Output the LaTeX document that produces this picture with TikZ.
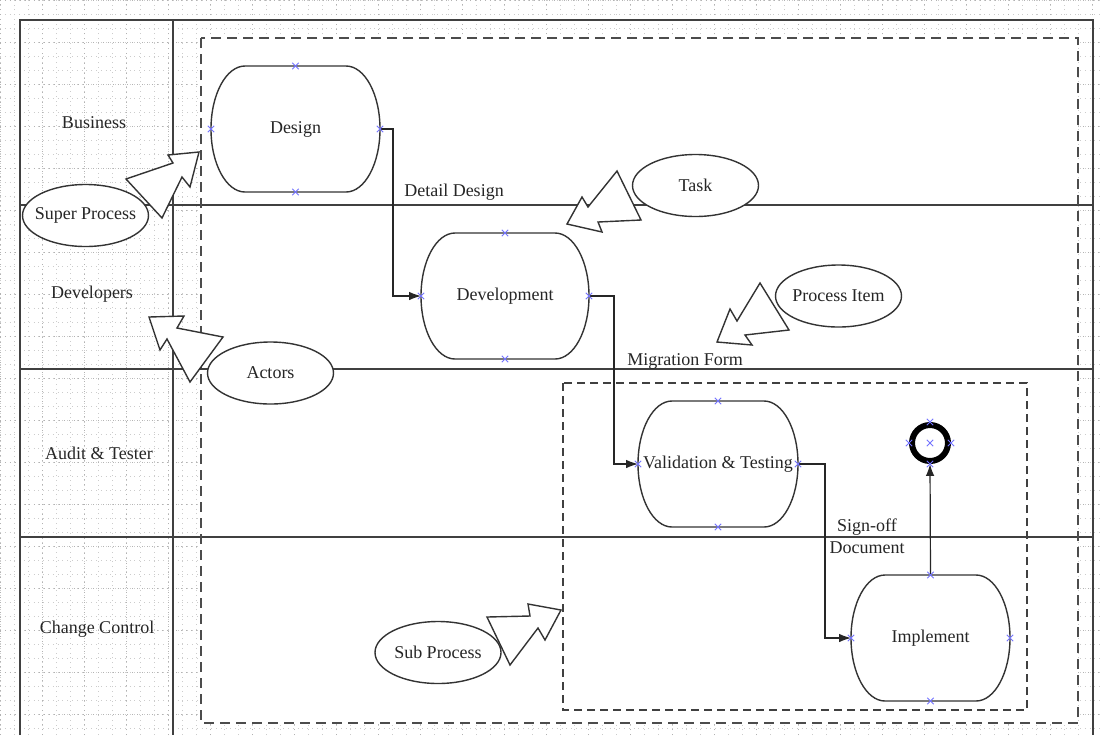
\documentclass[tikz,border=0pt]{standalone}
\usepackage{fontspec}
\setmainfont{Liberation Serif}
\usetikzlibrary{arrows.meta}
\usetikzlibrary{shapes.geometric}
\tikzset{>={Latex[width=1.5mm,length=2.1mm]}}

\tikzset{
  gridminor/.style={gray!40, line width=0.4pt, dotted},
  gridmajor/.style={gray!60, line width=0.45pt, dotted},
  lane/.style={black!75, line width=0.7pt},
  superbox/.style={black!70, line width=1pt, dash pattern=on 5pt off 3pt},
  subbox/.style={black!75, line width=0.7pt, dash pattern=on 4pt off 2.5pt},
  act/.style={minimum height=63pt, inner sep=0pt, outer sep=0pt},
  actline/.style={black!80, line width=0.7pt},
  flow/.style={->, black!85, line width=0.6pt},
  cpmark/.style={blue!55, line width=0.5pt},
  endev/.style={circle, draw=black, line width=3pt, minimum size=18pt, inner sep=0pt},
  note/.style={ellipse, draw=black!80, fill=white, line width=0.7pt,
    minimum width=63pt, minimum height=31pt, inner sep=0pt},
  jag/.style={draw=black!80, fill=white, line width=0.7pt, line join=miter}
}

% text that does not widen its node
\newcommand{\ctext}[1]{\makebox[0pt]{#1}}

% activity outline: flat top and bottom, elliptic sides
\newcommand{\actshape}[1]{%
  \draw[actline] ([xshift=17pt]#1.north west) -- ([xshift=-17pt]#1.north east)
    arc[start angle=90, end angle=-90, x radius=17pt, y radius=31.5pt]
    -- ([xshift=17pt]#1.south west)
    arc[start angle=270, end angle=90, x radius=17pt, y radius=31.5pt] -- cycle;}

\begin{document}
\begin{tikzpicture}[x=0.5pt, y=0.5pt, font=\fontsize{9}{11}\selectfont, text=black!85]

  \useasboundingbox (0,0) rectangle (1102,-735);

  % sheet grid
  \draw[gridminor, step=7pt] (0,-735) grid (1102,0);
  \draw[gridmajor, step=21pt] (0,-735) grid (1102,0);
  \fill[white] (201,-38) rectangle (1078,-723);

  % pool and lanes
  \draw[lane] (20,-735) -- (20,-20) -- (1093,-20) -- (1093,-735);
  \draw[lane] (173,-20) -- (173,-735);
  \foreach \y in {205,369,537}
    \draw[lane] (20,-\y) -- (1093,-\y);

  \draw[superbox] (201,-38) rectangle (1078,-723);
  \draw[subbox] (563,-383) rectangle (1027,-710);

  \node (business) at (94,-123) {Business};
  \node (developers) at (92,-294) {Developers};
  \node (audit) at (99,-453) {Audit \& Tester};
  \node (change) at (97,-629) {Change Control};

  % activities
  \node[act, minimum width=84.5pt] (design) at (295.5,-129) {Design};
  \node[act, minimum width=84pt] (devel) at (505,-296) {Development};
  \node[act, minimum width=80pt] (valid) at (718,-464) {Validation \& Testing};
  \node[act, minimum width=79.5pt] (impl) at (930.5,-638) {Implement};
  \foreach \n in {design,devel,valid,impl}
    \actshape{\n};

  \node[endev] (stop) at (930,-443) {};

  % sequence flows
  \draw[flow] (design.east) -- ++(13,0) |- (devel.west);
  \draw[flow] (devel.east) -- ++(25,0) |- (valid.west);
  \draw[flow] (valid.east) -- ++(27,0) |- (impl.west);
  \draw[flow] (impl.north) -- (stop.south);

  \node (detail) at (454,-192) {Detail Design};
  \node (migration) at (685,-361) {Migration Form};
  \node[align=center] (signoff) at (867,-536) {Sign-off\\Document};

  % connection points
  \foreach \n in {design,devel,valid,impl,stop}
    \foreach \a in {north,south,east,west}
      \draw[cpmark] (\n.\a) +(-1.6pt,-1.6pt) -- +(1.6pt,1.6pt) +(-1.6pt,1.6pt) -- +(1.6pt,-1.6pt);
  \draw[cpmark] (stop.center) +(-1.6pt,-1.6pt) -- +(1.6pt,1.6pt) +(-1.6pt,1.6pt) -- +(1.6pt,-1.6pt);

  % legend notes
  \node[note] (superp) at (85.5,-215.5) {\ctext{Super Process}};
  \node[note] (task) at (695.5,-185.5) {\ctext{Task}};
  \node[note] (pitem) at (838.5,-296) {\ctext{Process Item}};
  \node[note] (actors) at (270.5,-373) {\ctext{Actors}};
  \node[note] (subp) at (438,-652.5) {\ctext{Sub Process}};

  % jagged pointers
  \draw[jag] (199,-152) -- (168,-155) -- (173,-163) -- (126,-179) -- (162,-218) -- (182,-177) -- (190,-187) -- cycle;
  \draw[jag] (567,-224) -- (582,-197) -- (588,-207) -- (617,-171) -- (641,-220) -- (598,-222) -- (602,-232) -- cycle;
  \draw[jag] (717,-342) -- (730,-309) -- (737,-321) -- (760,-283) -- (789,-330) -- (745,-335) -- (752,-345) -- cycle;
  \draw[jag] (149,-317) -- (184,-316) -- (177,-328) -- (223,-337) -- (190,-382) -- (167,-339) -- (160,-350) -- cycle;
  \draw[jag] (561,-610) -- (528,-604) -- (530,-616) -- (487,-617) -- (510,-665) -- (538,-628) -- (545,-640) -- cycle;

\end{tikzpicture}
\end{document}
